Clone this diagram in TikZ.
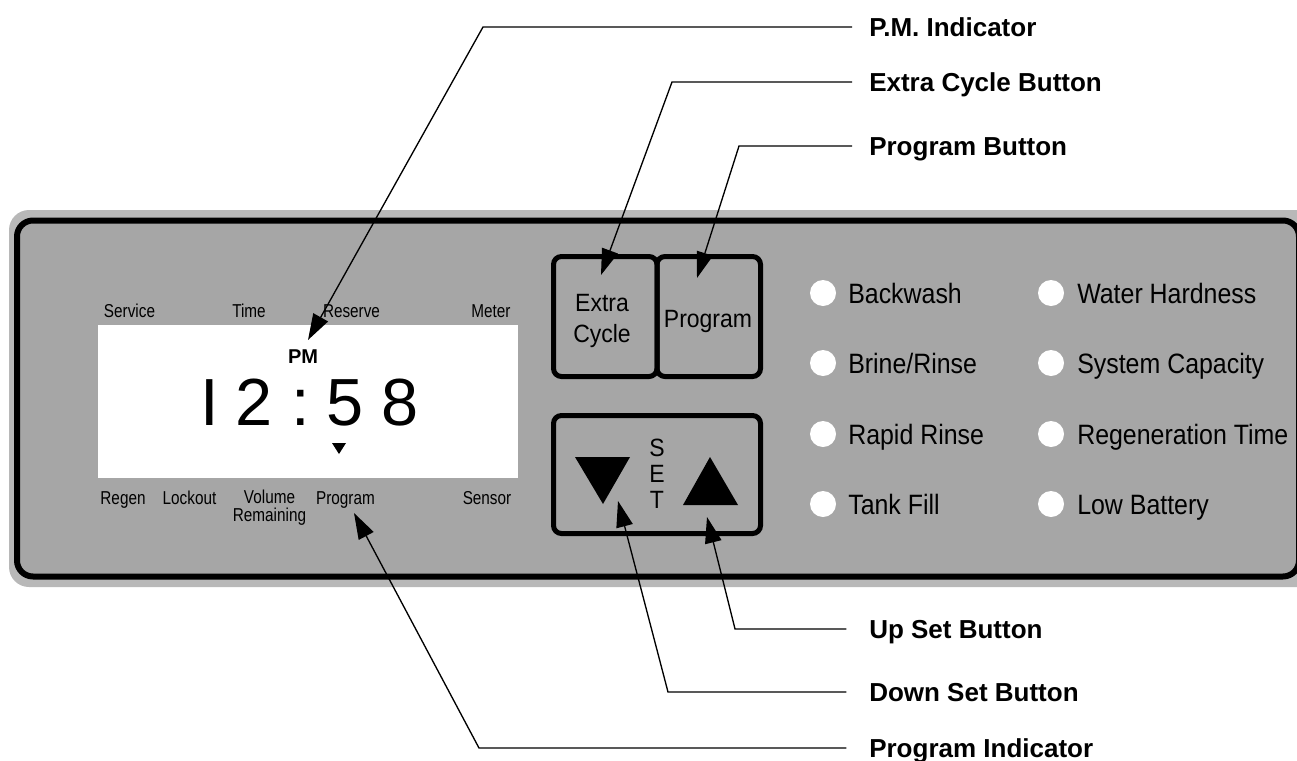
\documentclass[tikz,border=0pt]{standalone}
\usepackage{fontspec}
\setmainfont{Liberation Sans}
\newfontfamily\dispfont[FakeStretch=0.82]{Liberation Sans}
\newfontfamily\lampfont[FakeStretch=0.89]{Liberation Sans}
\newfontfamily\btnfont[FakeStretch=0.92]{Liberation Sans}
\usetikzlibrary{arrows.meta}
\definecolor{panelgray}{RGB}{166,166,166}
\definecolor{ringgray}{RGB}{184,184,184}
\begin{document}
\begin{tikzpicture}[x=0.75pt,y=-0.75pt,
  dlab/.style={font=\dispfont\fontsize{14pt}{16pt}\selectfont, inner sep=0, anchor=base},
  lamp/.style={circle, fill=white, minimum size=19.5pt, inner sep=0},
  llab/.style={font=\lampfont\fontsize{21pt}{24pt}\selectfont, inner sep=0, anchor=base west},
  btxt/.style={font=\btnfont\fontsize{18.75pt}{23.25pt}\selectfont, inner sep=0, align=center},
  digit/.style={font=\fontsize{50pt}{60pt}\selectfont, inner sep=0, anchor=base},
  callout/.style={font=\bfseries\fontsize{19.5pt}{23pt}\selectfont, inner sep=0, anchor=west, text height=14pt, text depth=0pt},
  leader/.style={line width=1pt, -{Triangle[length=19.5pt,width=12.5pt]}, shorten <=12.75pt},
  btnbox/.style={line width=3.75pt, rounded corners=6pt, draw=black}
]
\useasboundingbox (0,0) rectangle (1297,761);
\clip (0,0) rectangle (1297,761);

% panel
\fill[ringgray, rounded corners=15pt] (9,210) rectangle (1330,587);
\draw[fill=panelgray, line width=4.5pt, rounded corners=12pt] (17,220.5) rectangle (1299,576.5);

% display
\fill[white] (98,325) rectangle (518,478);
\node[dlab] (sService) at (129.5,317) {Service};
\node[dlab] (sTime) at (249,317) {Time};
\node[dlab] (sReserve) at (351.5,317) {Reserve};
\node[dlab] (sMeter) at (491,317) {Meter};
\node[dlab] (sRegen) at (123,504) {Regen};
\node[dlab] (sLockout) at (189.5,504) {Lockout};
\node[dlab, anchor=center, align=center, font=\dispfont\fontsize{14pt}{13.5pt}\selectfont] (sVolume) at (269.5,508) {Volume\\Remaining};
\node[dlab] (sProgram) at (345.5,504) {Program};
\node[dlab] (sSensor) at (487,504) {Sensor};
\node[font=\bfseries\fontsize{15pt}{18pt}\selectfont, inner sep=0, anchor=base] (pm) at (303,363) {PM};
\node[digit] (d1) at (209.5,425) {I};
\node[digit] (d2) at (254,425) {2};
\node[digit] (d3) at (300.5,425) {:};
\node[digit] (d4) at (345,425) {5};
\node[digit] (d5) at (400,425) {8};
\fill (332,443) -- (346,443) -- (339,454) -- cycle;

% buttons
\draw[btnbox] (553.5,256.5) rectangle (657,376.5);
\draw[btnbox] (657,256.5) rectangle (760.5,376.5);
\draw[btnbox] (553.5,415.5) rectangle (760.5,533.5);
\node[btxt] (bExtra) at (602,320.5) {Extra\\Cycle};
\node[btxt, anchor=base] (bProg) at (708,327) {Program};
\node[btxt, font=\btnfont\fontsize{18.75pt}{19.5pt}\selectfont] (bSet) at (657,473.5) {S\\E\\T};
\fill (575,457) -- (630,457) -- (603,504) -- cycle;
\fill (683,505) -- (738,505) -- (710,457) -- cycle;

% lamps
\node[lamp] (c1) at (823,293) {};
\node[lamp] (c2) at (823,363) {};
\node[lamp] (c3) at (823,434) {};
\node[lamp] (c4) at (823,504) {};
\node[lamp] (c5) at (1051,293) {};
\node[lamp] (c6) at (1051,363) {};
\node[lamp] (c7) at (1051,434) {};
\node[lamp] (c8) at (1051,504) {};
\node[llab] (t1) at (848,303) {Backwash};
\node[llab] (t2) at (848,373) {Brine/Rinse};
\node[llab] (t3) at (848,444) {Rapid Rinse};
\node[llab] (t4) at (848,514) {Tank Fill};
\node[llab] (t5) at (1077,303) {Water Hardness};
\node[llab] (t6) at (1077,373) {System Capacity};
\node[llab] (t7) at (1077,444) {Regeneration Time};
\node[llab] (t8) at (1077,514) {Low Battery};

% callouts
\node[callout] (lPM) at (869,27) {P.M. Indicator};
\node[callout] (lExtra) at (869,82) {Extra Cycle Button};
\node[callout] (lProg) at (869,146) {Program Button};
\node[callout] (lUp) at (869,629) {Up Set Button};
\node[callout] (lDown) at (869,692) {Down Set Button};
\node[callout] (lPI) at (869,748) {Program Indicator};

\coordinate (kPM) at (483,27);   \coordinate (tPM) at (308,340);
\coordinate (kExtra) at (672,82); \coordinate (tExtra) at (601,275);
\coordinate (kProg) at (739,146); \coordinate (tProg) at (697,278);
\coordinate (kUp) at (735,629);  \coordinate (tUp) at (707,517);
\coordinate (kDown) at (668,692); \coordinate (tDown) at (618,501);
\coordinate (kPI) at (479,748);  \coordinate (tPI) at (354,513);

\draw[leader] (lPM.west) -- (kPM) -- (tPM);
\draw[leader] (lExtra.west) -- (kExtra) -- (tExtra);
\draw[leader] (lProg.west) -- (kProg) -- (tProg);
\draw[leader, shorten <=17pt] (lUp.west) -- (kUp) -- (tUp);
\draw[leader, shorten <=17pt] (lDown.west) -- (kDown) -- (tDown);
\draw[leader, shorten <=17pt] (lPI.west) -- (kPI) -- (tPI);
\end{tikzpicture}
\end{document}
